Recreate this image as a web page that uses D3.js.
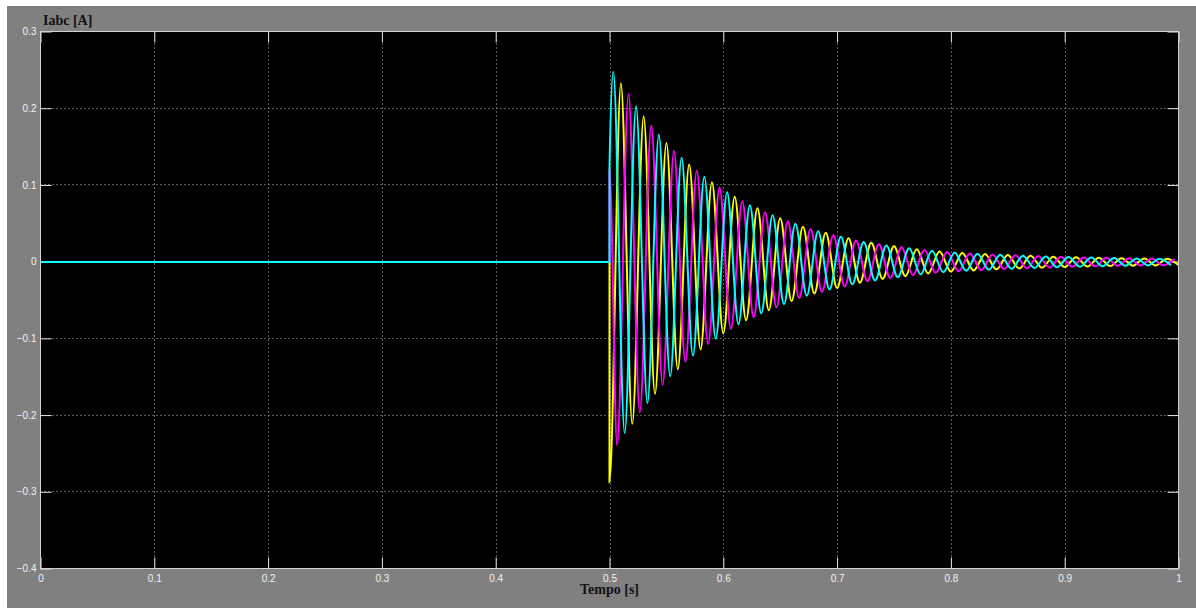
<!DOCTYPE html>
<html>
<head>
<meta charset="utf-8">
<script src="https://cdn.jsdelivr.net/npm/d3@7"></script>
<style>
  html, body { margin: 0; padding: 0; background: #ffffff; }
  svg { display: block; }
</style>
</head>
<body>
<svg></svg>
<script>
// three phase currents, switched on at t = 0.5 s
// extrema of each phase, one every half period (10 ms)
var xTicks = [0, 0.1, 0.2, 0.3, 0.4, 0.5, 0.6, 0.7, 0.8, 0.9, 1];
var yTicks = [0.3, 0.2, 0.1, 0, -0.1, -0.2, -0.3, -0.4];

var switchTime = 0.5;
var halfPeriod = 0.01;

// phase a (yellow): jumps to -0.287 at switch-on, first peak at 0.510 s
var yellowOnset = -0.287;
var yellowStart = 0.510;
var yellowPeaks = [0.233, -0.211, 0.190, -0.172, 0.155, -0.140, 0.127, -0.114, 0.104, -0.093,
  0.085, -0.076, 0.070, -0.063, 0.057, -0.051, 0.046, -0.041, 0.038, -0.034,
  0.031, -0.027, 0.025, -0.022, 0.0205, -0.0185, 0.0166, -0.0150, 0.0137, -0.0125,
  0.0117, -0.0110, 0.0103, -0.0096, 0.0090, -0.0085, 0.0080, -0.0075, 0.0070, -0.0065,
  0.0062, -0.0059, 0.0056, -0.0053, 0.0050, -0.0048, 0.0046, -0.0044, 0.0042, -0.0040];

// phase b (magenta)
var magentaOnset = 0.12;
var magentaStart = 0.50667;
var magentaPeaks = [-0.239, 0.219, -0.196, 0.178, -0.160, 0.145, -0.130, 0.119, -0.107, 0.097,
  -0.087, 0.079, -0.072, 0.065, -0.059, 0.053, -0.047, 0.043, -0.039, 0.035,
  -0.032, 0.028, -0.025, 0.023, -0.021, 0.0191, -0.0172, 0.0156, -0.0141, 0.0129,
  -0.0120, 0.0112, -0.0105, 0.0098, -0.0092, 0.0087, -0.0082, 0.0077, -0.0072, 0.0067,
  -0.0063, 0.0060, -0.0057, 0.0054, -0.0051, 0.0049, -0.0046, 0.0044, -0.0042, 0.0040];

// phase c (cyan)
var cyanOnset = 0.125;
var cyanStart = 0.50333;
var cyanPeaks = [0.248, -0.223, 0.203, -0.184, 0.166, -0.149, 0.136, -0.122, 0.111, -0.100,
  0.091, -0.081, 0.074, -0.067, 0.061, -0.055, 0.050, -0.044, 0.040, -0.036,
  0.033, -0.029, 0.026, -0.024, 0.0215, -0.0198, 0.0179, -0.0161, 0.0146, -0.0133,
  0.0122, -0.0114, 0.0107, -0.0100, 0.0094, -0.0088, 0.0083, -0.0078, 0.0073, -0.0068,
  0.0064, -0.0061, 0.0058, -0.0055, 0.0052, -0.0049, 0.0047, -0.0045, 0.0043, -0.0041];

var width = 1196;
var height = 608;

var phases = [
  {color: "#ffff00", onset: yellowOnset, start: yellowStart, peaks: yellowPeaks},
  {color: "#ff00ff", onset: magentaOnset, start: magentaStart, peaks: magentaPeaks},
  {color: "#00ffff", onset: cyanOnset, start: cyanStart, peaks: cyanPeaks}
];

function points(p){
  var pts = [[0, 0], [switchTime, 0], [switchTime + 1e-5, p.onset]];
  p.peaks.forEach((v, i) => {
    var t = p.start + i * halfPeriod;
    if (t <= 1) pts.push([t, v]);
  });
  return pts;
}

var x = d3.scaleLinear().domain([0, 1]).range([40.5, 1178.5]);
var y = d3.scaleLinear().domain([-0.4, 0.3]).range([568.5, 31.5]);

var svg = d3.select("svg")
    .attr("width", width)
    .attr("height", height);

// figure background
svg.append("rect")
    .attr("x", 7).attr("y", 6)
    .attr("width", width - 7).attr("height", height - 6)
    .attr("fill", "#808080");

// plot area
svg.append("rect")
    .attr("x", x(0)).attr("y", y(0.3))
    .attr("width", x(1) - x(0)).attr("height", y(-0.4) - y(0.3))
    .attr("fill", "#000");

// dotted grid
var grid = svg.append("g")
    .attr("stroke", "#b4b4b4")
    .attr("stroke-width", 1)
    .attr("stroke-dasharray", "1,3");

grid.selectAll(".vg")
  .data(xTicks.slice(1, -1))
  .join("line")
    .attr("x1", d => Math.round(x(d)) + 0.5).attr("x2", d => Math.round(x(d)) + 0.5)
    .attr("y1", y(0.3)).attr("y2", y(-0.4));

grid.selectAll(".hg")
  .data(yTicks.slice(1, -1))
  .join("line")
    .attr("y1", d => Math.floor(y(d)) + 0.5).attr("y2", d => Math.floor(y(d)) + 0.5)
    .attr("x1", x(0)).attr("x2", x(1));

// axes
var tickLen = 11;
var xBottom = d3.axisBottom(x).tickValues(xTicks).tickFormat(d3.format("")).tickSizeInner(-tickLen).tickSizeOuter(0).tickPadding(6);
var xTop = d3.axisTop(x).tickValues(xTicks).tickFormat("").tickSizeInner(-tickLen).tickSizeOuter(0);
var yLeft = d3.axisLeft(y).tickValues(yTicks).tickFormat(d3.format("")).tickSizeInner(-tickLen).tickSizeOuter(0).tickPadding(4);
var yRight = d3.axisRight(y).tickValues(yTicks).tickFormat("").tickSizeInner(-tickLen).tickSizeOuter(0);

function styleAxis(g){
  g.select(".domain").remove();
  g.selectAll("line").attr("stroke", "#e6e6e6");
  g.selectAll("text")
    .attr("fill", "#f2f2f2")
    .style("font-family", "'Liberation Sans Narrow', 'Arial Narrow', 'Liberation Sans', sans-serif")
    .style("font-size", "10px");
}

svg.append("g").attr("transform", `translate(0,${y(-0.4)})`).call(xBottom).call(styleAxis);
svg.append("g").attr("transform", `translate(0,${y(0.3)})`).call(xTop).call(styleAxis);
svg.append("g").attr("transform", `translate(${x(0)},0)`).call(yLeft).call(styleAxis);
svg.append("g").attr("transform", `translate(${x(1)},0)`).call(yRight).call(styleAxis);

// currents
var line = d3.line()
    .x(d => x(d[0]))
    .y(d => y(d[1]))
    .curve(d3.curveMonotoneX);

// nudge so the flat zero trace covers two whole pixel rows
var snap = Math.round(y(0)) - y(0);

svg.append("g")
    .attr("transform", `translate(0,${snap})`)
  .selectAll("path")
  .data(phases)
  .join("path")
    .attr("d", d => line(points(d)))
    .attr("fill", "none")
    .attr("stroke", d => d.color)
    .attr("stroke-width", 2);

// box
svg.append("rect")
    .attr("x", x(0)).attr("y", y(0.3))
    .attr("width", x(1) - x(0)).attr("height", y(-0.4) - y(0.3))
    .attr("fill", "none")
    .attr("stroke", "#d2d2d2")
    .attr("stroke-width", 1);

// titles
svg.append("text")
    .attr("x", 43).attr("y", 25)
    .attr("fill", "#101010")
    .style("font-family", "'Liberation Serif', 'DejaVu Serif', serif")
    .style("font-weight", "bold")
    .style("font-size", "14px")
    .text("Iabc [A]");

svg.append("text")
    .attr("x", x(0.5)).attr("y", 594)
    .attr("text-anchor", "middle")
    .attr("fill", "#101018")
    .style("font-family", "'Liberation Serif', 'DejaVu Serif', serif")
    .style("font-weight", "bold")
    .style("font-size", "14px")
    .text("Tempo [s]");
</script>
</body>
</html>
